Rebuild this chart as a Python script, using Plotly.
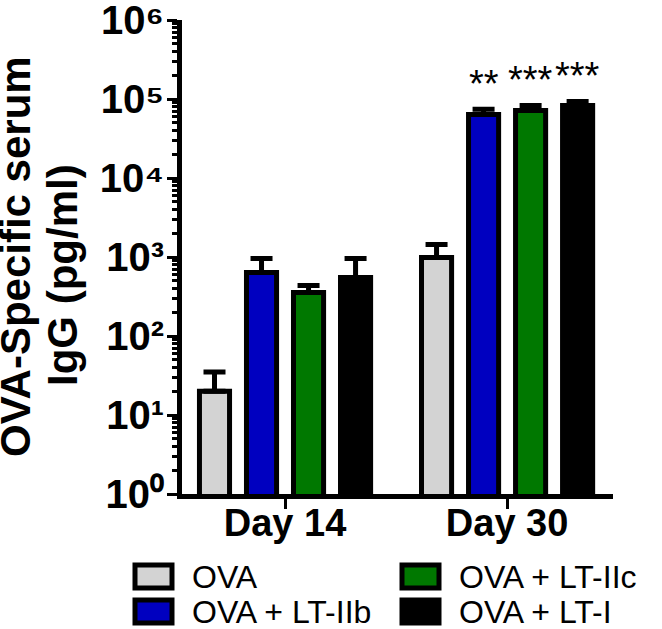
import numpy as np
import plotly.graph_objects as go

days = ['Day 14', 'Day 30']
groups = ['OVA', 'OVA + LT-IIb', 'OVA + LT-IIc', 'OVA + LT-I']
colors = ['#D3D3D3', '#0000C0', '#007800', '#000000']

# mean IgG (pg/ml) per group, Day 14 / Day 30
means = {
    'OVA': [20, 985],
    'OVA + LT-IIb': [635, 63500],
    'OVA + LT-IIc': [355, 71500],
    'OVA + LT-I': [550, 83000],
}
# upper error (pg/ml)
errors = {
    'OVA': [15, 455],
    'OVA + LT-IIb': [320, 10500],
    'OVA + LT-IIc': [80, 11500],
    'OVA + LT-I': [405, 10000],
}
stars = {
    'OVA': ['', ''],
    'OVA + LT-IIb': ['', '**'],
    'OVA + LT-IIc': ['', '***'],
    'OVA + LT-I': ['', '***'],
}
decades = [0, 1, 2, 3, 4, 5, 6]
sup_digits = '⁰¹²³⁴⁵⁶'

FONT = 'Arial, Liberation Sans, sans-serif'
bargap = 0.153

fig = go.Figure()

for name, col in zip(groups, colors):
    fig.add_trace(go.Bar(
        x=days,
        y=means[name],
        name=name,
        marker=dict(color=col, line=dict(color='black', width=5)),
        error_y=dict(type='data', array=errors[name], arrayminus=[0, 0],
                     symmetric=False, color='black', thickness=5, width=11),
        showlegend=False,
    ))

# significance stars above the error bars
slot = (1 - bargap) / len(groups)
for j, name in enumerate(groups):
    for i, s in enumerate(stars[name]):
        if not s:
            continue
        top = means[name][i] + errors[name][i]
        fig.add_annotation(
            x=i + (j - 1.5) * slot, y=np.log10(top),
            xref='x', yref='y', text=s, showarrow=False,
            yanchor='bottom', yshift=2,
            font=dict(family=FONT, size=38, color='black'),
        )

# legend drawn by hand so the swatches match the big boxed style
for k, (name, col) in enumerate(zip(groups, colors)):
    cx = -47 + (k // 2) * 267
    cy = -71 - (k % 2) * 35
    fig.add_shape(
        type='rect', xref='paper', yref='paper',
        xsizemode='pixel', ysizemode='pixel', xanchor=0, yanchor=0,
        x0=cx, x1=cx + 37, y0=cy, y1=cy - 23,
        line=dict(color='black', width=5), fillcolor=col,
    )
    fig.add_annotation(
        xref='paper', yref='paper', x=0, y=0,
        xshift=cx + 55, yshift=cy - 11.5,
        xanchor='left', yanchor='middle', text=name, showarrow=False,
        font=dict(family=FONT, size=32, color='black'),
    )

# y-axis title as two rotated lines (tighter spacing than a <br> title)
title_font = dict(family=FONT, size=42, color='black', weight='bold')
fig.add_annotation(xref='paper', yref='paper', x=0, y=0.5, xshift=-167,
                   xanchor='center', yanchor='middle',
                   text='OVA-Specific serum', textangle=-90, showarrow=False,
                   font=title_font)
fig.add_annotation(xref='paper', yref='paper', x=0, y=0.5, xshift=-120, yshift=-18,
                   xanchor='center', yanchor='middle',
                   text='IgG (pg/ml)', textangle=-90, showarrow=False,
                   font=title_font)

fig.update_layout(
    width=662, height=629,
    margin=dict(l=182, r=49, t=20, b=135),
    paper_bgcolor='white', plot_bgcolor='white',
    barmode='group', bargap=bargap, bargroupgap=0.36,
    font=dict(family=FONT, color='black'),
)

fig.update_xaxes(
    type='category', range=[-0.464, 1.477], automargin=False,
    showline=True, linecolor='black', linewidth=5,
    ticks='outside', ticklen=10, tickwidth=3, tickcolor='black',
    tickfont=dict(family=FONT, size=38, weight='bold'),
    ticklabelstandoff=-19,
    showgrid=False, zeroline=False,
)

fig.update_yaxes(
    type='log', range=[0, 6], automargin=False,
    tickmode='array',
    tickvals=[10 ** p for p in decades],
    ticktext=['10' + sup_digits[p] for p in decades],
    ticklabeloverflow='allow', ticklabelstandoff=-5,
    showline=True, linecolor='black', linewidth=5,
    ticks='outside', ticklen=10, tickwidth=3, tickcolor='black',
    minor=dict(ticks='outside', ticklen=5, tickwidth=2.5, tickcolor='black',
               tickmode='linear', dtick='D1', showgrid=False),
    tickfont=dict(family=FONT, size=40, weight='bold'),
    showgrid=False, zeroline=False,
)

# drop the browser's default 8px body margin so the figure fills the window
fig.write_html('out.html', config={'displayModeBar': False},
               post_script="document.body.style.margin = '0';")
